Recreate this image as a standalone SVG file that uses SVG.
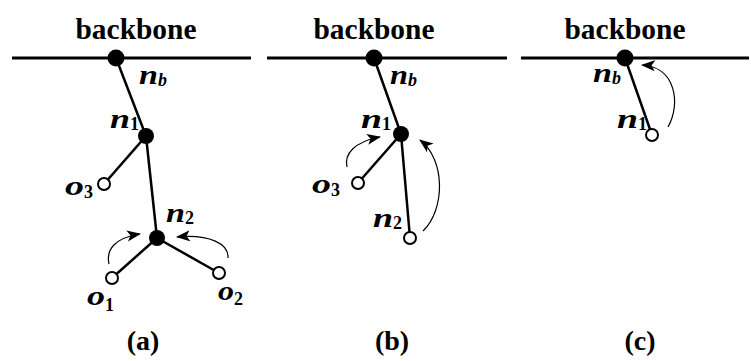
<svg xmlns="http://www.w3.org/2000/svg" width="751" height="361" viewBox="0 0 751 361">
<style>
.bb{stroke:#000;stroke-width:3;fill:none}
.edge{stroke:#000;stroke-width:2.5;fill:none}
.arr{stroke:#000;stroke-width:1.2;fill:none;marker-end:url(#ah)}
.full{fill:#000}
.open{fill:#fff;stroke:#000;stroke-width:2}
text{font-family:'Liberation Serif','Times New Roman',Times,serif;font-weight:bold}
.title{font-size:29px}
.cap{font-size:28px}
.lab{font-style:italic;font-size:27px}
.sub{font-size:18px}
.subi{font-style:italic;font-size:18px}
</style>
<defs>
<marker id="ah" markerUnits="userSpaceOnUse" markerWidth="16" markerHeight="12" refX="13" refY="6" orient="auto">
<path d="M0,0.5 L14,6 L0,11.5 L3.5,6 Z" fill="#000"/>
</marker>
</defs>
<rect width="751" height="361" fill="#fff"/>
<g id="backbones">
<line class="bb" x1="12" y1="58" x2="251" y2="58"/>
<line class="bb" x1="267" y1="58" x2="507" y2="58"/>
<line class="bb" x1="521" y1="58" x2="749" y2="58"/>
<text class="title" x="136" y="39" text-anchor="middle" textLength="121" lengthAdjust="spacingAndGlyphs">backbone</text>
<text class="title" x="374" y="39" text-anchor="middle" textLength="121" lengthAdjust="spacingAndGlyphs">backbone</text>
<text class="title" x="625" y="39" text-anchor="middle" textLength="121" lengthAdjust="spacingAndGlyphs">backbone</text>
</g>
<g id="connectors">
<line class="edge" x1="116" y1="58" x2="146" y2="136"/>
<line class="edge" x1="146" y1="136" x2="104" y2="184"/>
<line class="edge" x1="146" y1="136" x2="157" y2="238"/>
<line class="edge" x1="157" y1="238" x2="112" y2="278"/>
<line class="edge" x1="157" y1="238" x2="219" y2="273"/>
<line class="edge" x1="374" y1="58" x2="401" y2="134"/>
<line class="edge" x1="401" y1="134" x2="358" y2="183"/>
<line class="edge" x1="401" y1="134" x2="410" y2="238"/>
<line class="edge" x1="625" y1="58" x2="652" y2="135"/>
<path class="arr" d="M109,264 C106,250 114,238 140,234"/>
<path class="arr" d="M228,258 C229,244 210,234 177,237"/>
<path class="arr" d="M347,167 C344,154 354,142 380,137"/>
<path class="arr" d="M423,231 C445,210 446,160 420,140"/>
<path class="arr" d="M668,127 C681,104 676,67 642,65"/>
</g>
<g id="a-nb"><circle class="full" cx="116" cy="58" r="8.5"/>
<text x="139" y="84"><tspan class="lab" textLength="19" lengthAdjust="spacingAndGlyphs">n</tspan><tspan class="subi" dy="2">b</tspan></text></g>
<g id="a-n1"><circle class="full" cx="146" cy="136" r="8"/>
<text x="110" y="128"><tspan class="lab" textLength="20" lengthAdjust="spacingAndGlyphs">n</tspan><tspan class="sub" dy="2">1</tspan></text></g>
<g id="a-o3"><circle class="open" cx="104" cy="184" r="6"/>
<text x="65" y="195"><tspan class="lab" textLength="19" lengthAdjust="spacingAndGlyphs">o</tspan><tspan class="sub" dy="3">3</tspan></text></g>
<g id="a-n2"><circle class="full" cx="157" cy="238" r="8"/>
<text x="166" y="222"><tspan class="lab" textLength="19" lengthAdjust="spacingAndGlyphs">n</tspan><tspan class="sub" dy="2">2</tspan></text></g>
<g id="a-o1"><circle class="open" cx="112" cy="278" r="6"/>
<text x="87" y="305"><tspan class="lab" textLength="18" lengthAdjust="spacingAndGlyphs">o</tspan><tspan class="sub" dy="6">1</tspan></text></g>
<g id="a-o2"><circle class="open" cx="219" cy="273" r="6"/>
<text x="218" y="300"><tspan class="lab" textLength="16" lengthAdjust="spacingAndGlyphs">o</tspan><tspan class="sub" dy="5">2</tspan></text></g>
<text class="cap" x="143" y="350" text-anchor="middle">(a)</text>
<g id="b-nb"><circle class="full" cx="374" cy="58" r="8.5"/>
<text x="390" y="84"><tspan class="lab" textLength="18" lengthAdjust="spacingAndGlyphs">n</tspan><tspan class="subi" dy="2">b</tspan></text></g>
<g id="b-n1"><circle class="full" cx="401" cy="134" r="8"/>
<text x="361" y="128"><tspan class="lab" textLength="21" lengthAdjust="spacingAndGlyphs">n</tspan><tspan class="sub" dy="2">1</tspan></text></g>
<g id="b-o3"><circle class="open" cx="358" cy="183" r="6"/>
<text x="312" y="193"><tspan class="lab" textLength="19" lengthAdjust="spacingAndGlyphs">o</tspan><tspan class="sub" dy="3">3</tspan></text></g>
<g id="b-n2"><circle class="open" cx="410" cy="238" r="6"/>
<text x="373" y="227"><tspan class="lab" textLength="20" lengthAdjust="spacingAndGlyphs">n</tspan><tspan class="sub" dy="2">2</tspan></text></g>
<text class="cap" x="392" y="350" text-anchor="middle">(b)</text>
<g id="c-nb"><circle class="full" cx="625" cy="58" r="8.5"/>
<text x="593" y="82"><tspan class="lab" textLength="19" lengthAdjust="spacingAndGlyphs">n</tspan><tspan class="subi" dy="2">b</tspan></text></g>
<g id="c-n1"><circle class="open" cx="652" cy="135" r="6"/>
<text x="617" y="128"><tspan class="lab" textLength="21" lengthAdjust="spacingAndGlyphs">n</tspan><tspan class="sub" dy="2">1</tspan></text></g>
<text class="cap" x="640" y="350" text-anchor="middle">(c)</text>
</svg>
